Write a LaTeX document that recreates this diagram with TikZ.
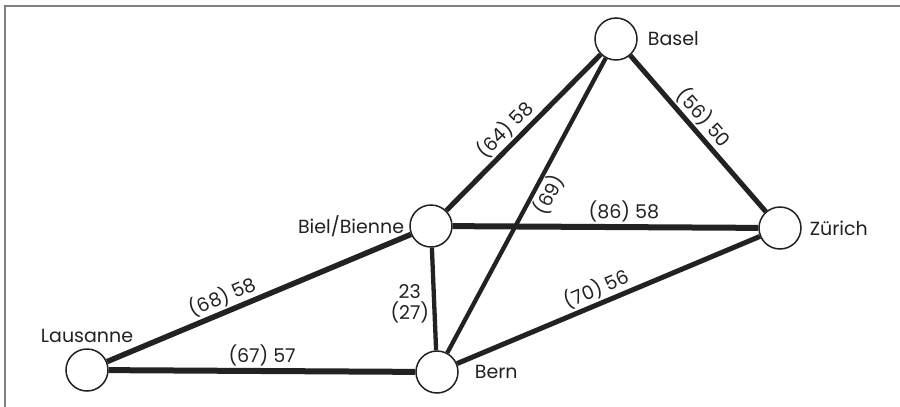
\documentclass[tikz,border=0pt]{standalone}
\usepackage{fontspec}
\setmainfont{Poppins}
\definecolor{ink}{HTML}{222222}
\definecolor{framec}{HTML}{808080}
\begin{document}
\begin{tikzpicture}[x=1pt,y=-1pt,
  city/.style={circle,draw=ink,line width=1.5pt,fill=white,minimum size=42pt,inner sep=0pt},
  cityname/.style={font=\fontsize{19}{22}\selectfont,text=ink,inner sep=1pt},
  road/.style={draw=ink,line cap=butt},
  elab/.style={font=\fontsize{19}{22}\selectfont,text=ink,inner sep=2pt,sloped}
]
\useasboundingbox (0,0) rectangle (900,407);
\fill[white] (0,0) rectangle (900,407);
\draw[framec,line width=1.5pt] (5,407) -- (5,6) -- (900,6);

\node[city,label={[cityname,label distance=9pt]right:Basel}] (basel) at (616,39) {};
\node[city,label={[cityname,label distance=4pt]left:Biel/Bienne}] (biel) at (431,226) {};
\node[city,label={[cityname,label distance=7pt]right:Zürich}] (zurich) at (780,228) {};
\node[city,label={[cityname,label distance=4pt]above:Lausanne}] (lausanne) at (87,370) {};
\node[city,label={[cityname,label distance=15pt]right:Bern}] (bern) at (437,372) {};

\draw[road,line width=5pt] (biel) -- node[elab,above,pos=0.45] {(64) 58} (basel);
\draw[road,line width=5pt] (basel) -- node[elab,above,pos=0.46] {(56) 50} (zurich);
\draw[road,line width=4.3pt] (bern) -- node[elab,below,pos=0.56] {(69)} (basel);
\draw[road,line width=6pt] (biel) -- node[elab,above,pos=0.56] {(86) 58} (zurich);
\draw[road,line width=5pt] (bern) -- node[elab,above,pos=0.48] {(70) 56} (zurich);
\draw[road,line width=5.5pt] (lausanne) -- node[elab,above,pos=0.40] {(68) 58} (biel);
\draw[road,line width=6pt] (lausanne) -- node[elab,above,pos=0.50] {(67) 57} (bern);
\draw[road,line width=4.3pt] (biel) -- node[font=\fontsize{19}{21}\selectfont,text=ink,left,align=center,inner sep=3pt,pos=0.55] {23\\(27)} (bern);
\end{tikzpicture}
\end{document}
